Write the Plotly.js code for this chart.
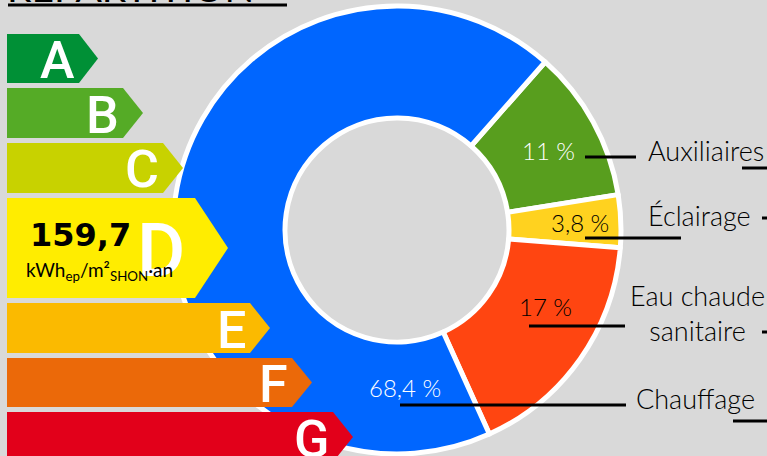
<!DOCTYPE html>
<html><head><meta charset="utf-8">
<script src="https://cdn.plot.ly/plotly-3.0.1.min.js"></script>
<style>html,body{margin:0;padding:0;background:#d9d9d9}</style>
</head><body><div id="chart" style="width:767px;height:456px"></div>
<script>
// ---- data ----
const usages = ['Auxiliaires', 'Éclairage', 'Eau chaude<br>sanitaire', 'Chauffage'];
const shares = [11, 3.8, 17, 68.4];
const sliceColors = ['#589e1e', '#ffd21f', '#ff4511', '#0066ff'];
const shareTextColors = ['#ffffff', '#000000', '#000000', '#ffffff'];
const classes = ['A', 'B', 'C', 'D', 'E', 'F', 'G'];
const classColors = ['#009036', '#55ab26', '#c8d200', '#ffed00', '#fbba00', '#eb6909', '#e2001a'];
const consumption = 159.7;
const currentClass = 'D';
const titleText = 'RÉPARTITION';

// ---- layout helpers ----
const W = 767, H = 456;
const X = p => p / W, Y = p => 1 - p / H;
const fmt = v => String(v).replace('.', ',');

const shapes = [], annotations = [];
// energy class arrows
const tops = [34, 88, 143, 198, 303, 358, 412];
const hts = [49, 50, 50, 100, 50, 49, 50];
const rectEnd = [79, 123, 163, 195, 250, 292, 333];
const tipX = [98, 143, 183, 228, 270, 312, 353];
classes.forEach((c, i) => {
  const t = tops[i], b = tops[i] + hts[i], m = (t + b) / 2;
  shapes.push({type: 'path', xref: 'paper', yref: 'paper', layer: 'above',
    path: `M${X(7)},${Y(t)} L${X(rectEnd[i])},${Y(t)} L${X(tipX[i])},${Y(m)} L${X(rectEnd[i])},${Y(b)} L${X(7)},${Y(b)} Z`,
    fillcolor: classColors[i], line: {width: 0}});
  const big = c === currentClass;
  annotations.push({text: c, xref: 'paper', yref: 'paper', x: X(rectEnd[i] - (big ? 8 : 2)), y: Y(m + 2),
    xanchor: 'right', yanchor: 'middle', showarrow: false,
    font: {family: 'Roboto', size: big ? 74 : 52, color: '#ffffff', weight: 500}});
});
// consumption value in class D
annotations.push({text: fmt(consumption), xref: 'paper', yref: 'paper', x: X(28), y: Y(235),
  xanchor: 'left', yanchor: 'middle', showarrow: false,
  font: {family: 'DejaVu Sans', size: 32, color: '#000000', weight: 'bold'}});
annotations.push({text: 'kWh<sub>ep</sub>/m²<sub>SHON</sub>·an', xref: 'paper', yref: 'paper', x: X(24), y: Y(271),
  xanchor: 'left', yanchor: 'middle', showarrow: false,
  font: {family: 'Lato', size: 19, color: '#000000'}});

// title (cut at top) + underline
annotations.push({text: titleText, xref: 'paper', yref: 'paper', x: X(5), y: Y(11.5),
  xanchor: 'left', yanchor: 'bottom', showarrow: false,
  font: {family: 'Lato', size: 39, color: '#000000'}});
shapes.push({type: 'line', xref: 'paper', yref: 'paper', x0: X(8), x1: X(287), y0: Y(5), y1: Y(5),
  line: {color: '#000000', width: 3}});

// percentage labels inside slices
const pctPos = [[548, 150], [580, 222], [545, 306], [405, 387]];
shares.forEach((v, i) => {
  annotations.push({text: fmt(v) + ' %', xref: 'paper', yref: 'paper', x: X(pctPos[i][0]), y: Y(pctPos[i][1]),
    xanchor: 'center', yanchor: 'middle', showarrow: false,
    font: {family: 'Lato', size: 24, color: shareTextColors[i], weight: 300}});
});
// category labels on the right
const labPos = [[646, 150, 'left'], [646, 216, 'left'], [697, 313, 'center'], [634, 398, 'left']];
usages.forEach((u, i) => {
  annotations.push({text: u, xref: 'paper', yref: 'paper', x: X(labPos[i][0]), y: Y(labPos[i][1]),
    xanchor: labPos[i][2], yanchor: 'middle', align: 'center', showarrow: false,
    font: {family: 'Lato', size: 27, color: '#000000', weight: 300}});
});
// leader lines
const leaders = [[585, 636, 157], [585, 681, 238], [529, 625, 326], [400, 626, 405],
                 [742, 767, 168], [762, 767, 218], [762, 767, 332], [733, 767, 421]];
leaders.forEach(l => shapes.push({type: 'line', xref: 'paper', yref: 'paper', layer: 'above',
  x0: X(l[0]), x1: X(l[1]), y0: Y(l[2]), y1: Y(l[2]), line: {color: '#000000', width: 3}}));

const trace = {
  type: 'pie', labels: usages, values: shares, sort: false, direction: 'clockwise',
  rotation: 41.4, hole: 0.5, textinfo: 'none', hoverinfo: 'label+percent',
  marker: {colors: sliceColors, line: {color: '#ffffff', width: 5}},
  domain: {x: [X(173), X(621)], y: [Y(454), Y(6)]}
};

Plotly.newPlot('chart', [trace], {
  width: W, height: H, margin: {l: 0, r: 0, t: 0, b: 0},
  paper_bgcolor: '#d9d9d9', plot_bgcolor: '#d9d9d9', showlegend: false,
  shapes: shapes, annotations: annotations
}, {displayModeBar: false, staticPlot: true});
</script></body></html>
